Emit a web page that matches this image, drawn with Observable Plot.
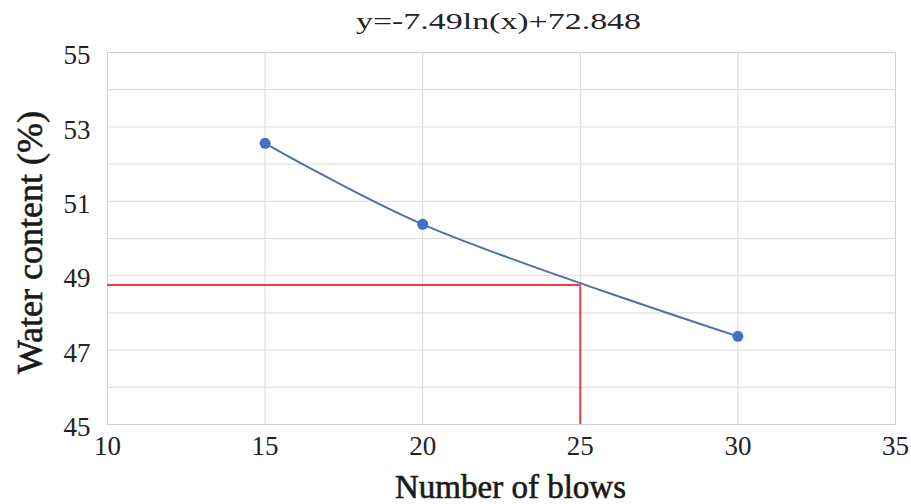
<!DOCTYPE html>
<html>
<head>
<meta charset="utf-8">
<script src="https://cdn.jsdelivr.net/npm/d3@7"></script>
<script src="https://cdn.jsdelivr.net/npm/@observablehq/plot@0.6"></script>
<style>
  html, body { margin: 0; padding: 0; background: #fff; }
  svg { display: block; }
  #chart svg text { font-family: 'Liberation Serif', 'Times New Roman', serif !important; font-variant: normal !important; font-variant-numeric: normal !important; }
</style>
</head>
<body>
<div id="chart"></div>
<script>
const title = "y=-7.49ln(x)+72.848";
const xLabel = "Number of blows";
const yLabel = "Water content (%)";
const blows = [15, 20, 30];
const water = [52.56, 50.38, 47.37];
const xDomain = [10, 35];
const yDomain = [45, 55];
const xTicks = [10, 15, 20, 25, 30, 35];
const yTicks = [45, 47, 49, 51, 53, 55];
const yGridTicks = [45, 46, 47, 48, 49, 50, 51, 52, 53, 54, 55];
const targetBlows = [25];
const targetWater = [48.75];

const pts = blows.map((b, i) => ({x: b, y: water[i]}));
const font = "'Liberation Serif', 'Times New Roman', serif";

const chart = Plot.plot({
  width: 911,
  height: 504,
  marginLeft: 107,
  marginRight: 16,
  marginTop: 52,
  marginBottom: 80,
  style: {fontFamily: font, background: "#fff", color: "#222"},
  x: {domain: xDomain, axis: null},
  y: {domain: yDomain, axis: null},
  marks: [
    Plot.gridY(yGridTicks, {stroke: "#d9d9d9", strokeOpacity: 1}),
    Plot.gridX(xTicks, {stroke: "#d9d9d9", strokeOpacity: 1}),
    Plot.frame({stroke: "#d0d0d0"}),
    Plot.ruleY(targetWater, {x1: xDomain[0], x2: targetBlows[0], stroke: "#f03c3c", strokeWidth: 2}),
    Plot.ruleX(targetBlows, {y1: yDomain[0], y2: targetWater[0], stroke: "#f03c3c", strokeWidth: 2}),
    Plot.line(pts, {x: "x", y: "y", curve: "catmull-rom", stroke: "#526fa8", strokeWidth: 2}),
    Plot.dot(pts, {x: "x", y: "y", r: 5.5, fill: "#3f6fc6", stroke: "none"}),
    Plot.text(yTicks, {x: xDomain[0], y: d => d, text: d => String(d), textAnchor: "end", lineAnchor: "middle", dx: -17, dy: 3, fontSize: 27, fontFamily: font, fill: "#222"}),
    Plot.text(xTicks, {x: d => d, y: yDomain[0], text: d => String(d), textAnchor: "middle", lineAnchor: "top", dy: 11, fontSize: 27, fontFamily: font, fill: "#222"}),
    Plot.text([yLabel], {frameAnchor: "left", textAnchor: "middle", lineAnchor: "middle", rotate: -90, dx: -77, dy: 4, fontSize: 36, fontFamily: font, fill: "#1a1a1a", stroke: "#1a1a1a", strokeWidth: 0.6}),
    Plot.text([xLabel], {frameAnchor: "bottom", textAnchor: "middle", dx: 9, dy: 73, fontSize: 33, fontFamily: font, fill: "#1a1a1a", stroke: "#1a1a1a", strokeWidth: 0.6}),
    Plot.text([title], {frameAnchor: "top", textAnchor: "middle", lineAnchor: "middle", dx: -3, dy: -31, fontSize: 24, fontFamily: font, fill: "#222"})
  ]
});
document.getElementById("chart").appendChild(chart);
chart.querySelectorAll("text").forEach(t => {
  if (t.textContent === title) {
    t.setAttribute("textLength", 285);
    t.setAttribute("lengthAdjust", "spacingAndGlyphs");
  }
});
</script>
</body>
</html>
